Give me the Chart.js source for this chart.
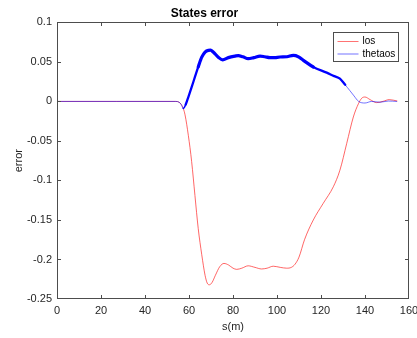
<!DOCTYPE html>
<html>
<head>
<meta charset="utf-8">
<script src="https://cdn.jsdelivr.net/npm/chart.js@4/dist/chart.umd.min.js"></script>
<style>
  html, body { margin: 0; padding: 0; background: #fff; }
  canvas { display: block; }
</style>
</head>
<body>
<canvas id="c" width="417" height="338"></canvas>
<script>
// Line-of-sight error along the path
const losS = [0, 54, 55.5, 56.5, 57.4, 58.2, 59.7, 61.2, 62.7, 64.2, 65.8, 67.3, 68.3, 69.3, 70.5, 72, 74, 75.9, 78, 80, 81.7, 84, 86.9, 90, 93, 95.5, 98.3, 101.5, 104.4, 106.5, 108.2, 110, 112.5, 116.5, 121, 125.6, 128.6, 131.7, 134.7, 137, 138.5, 140, 142.3, 145.3, 148.3, 151, 154.7];
const losErr = [0, 0, -0.001, -0.004, -0.009, -0.017, -0.043, -0.076, -0.119, -0.161, -0.194, -0.22, -0.23, -0.232, -0.229, -0.22, -0.209, -0.205, -0.207, -0.211, -0.2125, -0.211, -0.208, -0.21, -0.212, -0.211, -0.2085, -0.21, -0.211, -0.21, -0.206, -0.197, -0.175, -0.15, -0.129, -0.108, -0.087, -0.053, -0.0197, -0.003, 0.004, 0.0056, 0.0023, -0.0015, 0.0002, 0.0023, 0.0005];

// Heading (theta) error along the path
const thetaS = [0, 54, 55.5, 56.5, 57.4, 58.5, 59.7, 61.2, 62.7, 64.2, 65.8, 67.3, 68.8, 69.8, 71, 73.3, 75.3, 77.9, 81, 82.4, 84.5, 86.9, 89.5, 92.3, 94.5, 96.8, 99, 101.4, 104.5, 107.4, 108.5, 110, 112, 116.5, 122.6, 126, 128.6, 131, 133, 135, 137.1, 140, 143, 146.8, 150.6, 154.4];
const thetaErr = [0, 0, -0.001, -0.004, -0.009, -0.004, 0.0056, 0.018, 0.031, 0.0436, 0.056, 0.0625, 0.0646, 0.0648, 0.0625, 0.056, 0.0525, 0.0554, 0.0574, 0.058, 0.0565, 0.0541, 0.0555, 0.0574, 0.0565, 0.0554, 0.0555, 0.0562, 0.0565, 0.0583, 0.058, 0.056, 0.052, 0.0436, 0.0364, 0.032, 0.0289, 0.021, 0.0141, 0.007, 0, -0.002, 0, -0.001, 0.0005, 0];

const xTicks = [0, 20, 40, 60, 80, 100, 120, 140, 160];
const yTicks = [-0.25, -0.2, -0.15, -0.1, -0.05, 0, 0.05, 0.1];

const FONT = "'Liberation Sans', Arial, Helvetica, sans-serif";
Chart.defaults.font.family = FONT;

const toPoints = (xs, ys) => xs.map((x, i) => ({ x: x, y: ys[i] }));

// Heavy trace while the heading error is large
function thetaWidth(ctx) {
  const a = ctx.p0.parsed.x;
  if (a >= 63 && a < 113) return 3.2;
  if (a >= 58 && a < 129) return 2.3;
  if (a >= 57 && a < 130) return 1.6;
  return 1;
}
function thetaColor(ctx) {
  return thetaWidth(ctx) > 1.5 ? 'rgb(0,0,255)' : 'rgba(0,0,255,0.55)';
}

// MATLAB-style box with inward ticks on all four sides
const axesBox = {
  id: 'axesBox',
  afterDatasetsDraw(chart) {
    const { ctx, chartArea: a, scales } = chart;
    const L = Math.round(a.left) + 0.5, R = Math.round(a.right) - 0.5;
    const T = Math.round(a.top) + 0.5, B = Math.round(a.bottom) - 0.5;
    ctx.save();
    ctx.strokeStyle = '#4d4d4d';
    ctx.lineWidth = 1;
    ctx.strokeRect(L, T, R - L, B - T);
    ctx.beginPath();
    const tl = 3.5;
    scales.x.ticks.forEach(t => {
      const px = Math.round(scales.x.getPixelForValue(t.value)) + 0.5;
      if (px <= L + 1 || px >= R - 1) return;
      ctx.moveTo(px, B); ctx.lineTo(px, B - tl);
      ctx.moveTo(px, T); ctx.lineTo(px, T + tl);
    });
    scales.y.ticks.forEach(t => {
      const py = Math.round(scales.y.getPixelForValue(t.value)) + 0.5;
      if (py <= T + 1 || py >= B - 1) return;
      ctx.moveTo(L, py); ctx.lineTo(L + tl, py);
      ctx.moveTo(R, py); ctx.lineTo(R - tl, py);
    });
    ctx.stroke();
    ctx.restore();
  }
};

// Boxed legend in the upper-right corner of the plot area
const boxLegend = {
  id: 'boxLegend',
  afterDraw(chart) {
    const { ctx, chartArea: a } = chart;
    const w = 65, h = 29;
    const x0 = Math.round(a.right - 11 - w) + 0.5;
    const y0 = Math.round(a.top + 10) + 0.5;
    ctx.save();
    ctx.fillStyle = '#fff';
    ctx.fillRect(x0, y0, w, h);
    ctx.strokeStyle = '#4d4d4d';
    ctx.lineWidth = 1;
    ctx.strokeRect(x0, y0, w, h);
    ctx.font = '10px ' + FONT;
    ctx.textBaseline = 'middle';
    ctx.textAlign = 'left';
    const swatch = ['rgba(255,0,0,0.55)', 'rgba(0,0,255,0.55)'];
    chart.data.datasets.forEach((ds, i) => {
      const cy = y0 + 9 + i * 12.5;
      ctx.strokeStyle = swatch[i];
      ctx.beginPath();
      ctx.moveTo(x0 + 4, cy);
      ctx.lineTo(x0 + 25, cy);
      ctx.stroke();
      ctx.fillStyle = '#000';
      ctx.fillText(ds.label, x0 + 29, cy);
    });
    ctx.restore();
  }
};

new Chart(document.getElementById('c'), {
  type: 'scatter',
  data: {
    datasets: [
      {
        label: 'los',
        data: toPoints(losS, losErr),
        showLine: true,
        borderColor: 'rgba(255,0,0,0.6)',
        borderWidth: 1,
        pointRadius: 0,
        cubicInterpolationMode: 'monotone',
        order: 1
      },
      {
        label: 'thetaos',
        data: toPoints(thetaS, thetaErr),
        showLine: true,
        borderColor: 'rgba(0,0,255,0.55)',
        borderWidth: 1,
        borderCapStyle: 'round',
        borderJoinStyle: 'round',
        pointRadius: 0,
        cubicInterpolationMode: 'monotone',
        segment: { borderWidth: thetaWidth, borderColor: thetaColor },
        order: 0
      }
    ]
  },
  options: {
    responsive: false,
    animation: false,
    devicePixelRatio: 1,
    layout: { padding: { left: 0, right: 8, top: 0, bottom: 0 } },
    plugins: {
      legend: { display: false },
      tooltip: { enabled: false },
      title: {
        display: true,
        text: 'States error',
        color: '#000',
        font: { family: FONT, size: 12, weight: 'bold' },
        padding: { top: 6, bottom: 2 }
      }
    },
    scales: {
      x: {
        type: 'linear',
        min: 0, max: 160,
        afterBuildTicks(s) { s.ticks = xTicks.map(v => ({ value: v })); },
        afterFit(s) { s.height = 39; s.paddingLeft = 0; s.paddingRight = 0; },
        grid: { display: false, drawTicks: false },
        border: { display: false },
        ticks: {
          padding: 5, color: '#262626', font: { size: 11 },
          maxRotation: 0, autoSkip: false,
          callback: v => String(v)
        },
        title: {
          display: true, text: 's(m)', color: '#262626',
          font: { size: 11 }, padding: { top: 0, bottom: 4 }
        }
      },
      y: {
        type: 'linear',
        min: -0.25, max: 0.1,
        afterBuildTicks(s) { s.ticks = yTicks.map(v => ({ value: v })); },
        afterFit(s) { s.width = 57; s.paddingTop = 0; s.paddingBottom = 0; },
        grid: { display: false, drawTicks: false },
        border: { display: false },
        ticks: {
          padding: 5, color: '#262626', font: { size: 11 },
          autoSkip: false,
          callback: v => String(+Number(v).toFixed(2))
        },
        title: {
          display: true, text: 'error', color: '#262626',
          font: { size: 11 }, padding: { top: 12, bottom: 0 }
        }
      }
    }
  },
  plugins: [axesBox, boxLegend]
});
</script>
</body>
</html>
